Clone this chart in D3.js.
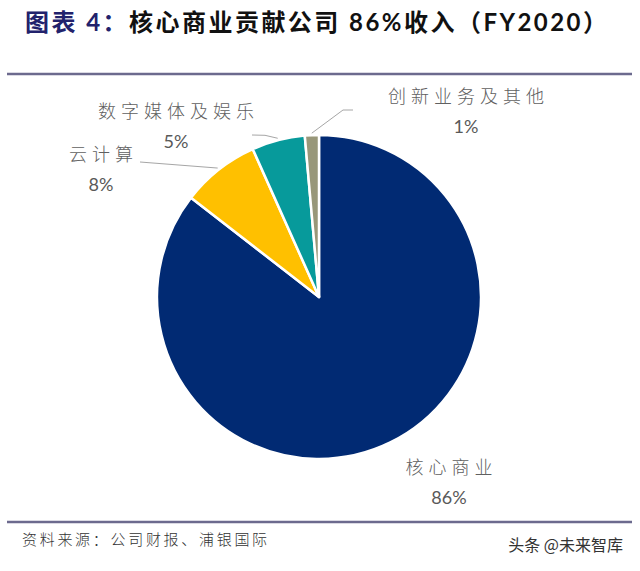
<!DOCTYPE html>
<html>
<head>
<meta charset="utf-8">
<script src="https://cdn.jsdelivr.net/npm/d3@7"></script>
<style>
  html, body { margin: 0; padding: 0; background: #fff; }
  svg { display: block; }
</style>
</head>
<body>
<svg id="chart" width="640" height="571"></svg>
<script>
// ---- data ----
const categories = ["核心商业", "云计算", "数字媒体及娱乐", "创新业务及其他"];
const shares = [85.5, 7.8, 5.3, 1.4];
const shareLabels = ["86%", "8%", "5%", "1%"];
const colors = ["#012A73", "#FFC000", "#079A9B", "#989779"];

const titlePrefix = "图表 4：";
const titleMain = "核心商业贡献公司 86%收入（FY2020）";
const sourceText = "资料来源：公司财报、浦银国际";
const watermark = "头条 @未来智库";

// ---- layout (label anchors; leader elbow points) ----
const labelLayout = [
  { x: 449, y: 474, leader: null },
  { x: 101, y: 161, leader: [[140, 162]] },
  { x: 176, y: 118, leader: [[265, 135.3], [252, 135]] },
  { x: 466, y: 103, leader: [[343, 110], [353, 110]] }
];

const svg = d3.select("#chart");
const cx = 319, cy = 297, R = 162;

// Title
const title = svg.append("text")
  .attr("x", 25).attr("y", 31)
  .attr("font-family", "Lato, 'Noto Sans CJK SC', sans-serif")
  .attr("font-weight", 700)
  .attr("font-size", 24);
title.append("tspan").attr("fill", "#22226C").text(titlePrefix);
title.append("tspan").attr("fill", "#111").text(titleMain);
// spread to reference width via letter-spacing (advance box incl. full-width paren)
const natural = title.node().getBBox().width;
const nChars = (titlePrefix + titleMain).length;
const lsT = Math.max(0, (582 - natural) / (nChars - 1));
title.attr("letter-spacing", lsT);

// rules
svg.append("line").attr("x1", 7).attr("x2", 632).attr("y1", 74).attr("y2", 74)
  .attr("stroke", "#6C6A8E").attr("stroke-width", 2.5);
svg.append("line").attr("x1", 7).attr("x2", 632).attr("y1", 522).attr("y2", 522)
  .attr("stroke", "#6C6A8E").attr("stroke-width", 2.5);

// Pie
const pie = d3.pie().sort(null).value(d => d).startAngle(0).endAngle(2 * Math.PI);
const arcs = pie(shares);
const arc = d3.arc().innerRadius(0).outerRadius(R);
const g = svg.append("g").attr("transform", `translate(${cx},${cy})`);
g.selectAll("path").data(arcs).join("path")
  .attr("d", arc)
  .attr("fill", (d, i) => colors[i])
  .attr("stroke", "#fff")
  .attr("stroke-width", 2.5)
  .attr("stroke-linejoin", "round");

// Leader lines
arcs.forEach((a, i) => {
  const L = labelLayout[i];
  if (!L.leader) return;
  const mid = (a.startAngle + a.endAngle) / 2;
  const start = [cx + (R + 2) * Math.sin(mid), cy - (R + 2) * Math.cos(mid)];
  const pts = [start, ...L.leader];
  svg.append("path")
    .attr("d", d3.line()(pts))
    .attr("fill", "none")
    .attr("stroke", "#A6A6A6")
    .attr("stroke-width", 1);
});

// Labels
const ls = 5;
categories.forEach((c, i) => {
  const L = labelLayout[i];
  svg.append("text")
    .attr("x", L.x + ls / 2).attr("y", L.y)
    .attr("text-anchor", "middle")
    .attr("font-family", "'Noto Sans CJK SC', sans-serif")
    .attr("font-weight", 300)
    .attr("font-size", 18)
    .attr("letter-spacing", ls)
    .attr("fill", "#606060")
    .text(c);
  svg.append("text")
    .attr("x", L.x).attr("y", L.y + 30)
    .attr("text-anchor", "middle")
    .attr("font-family", "Lato, 'Liberation Sans', sans-serif")
    .attr("font-size", 18)
    .attr("fill", "#595959")
    .text(shareLabels[i]);
});

// Source
svg.append("text")
  .attr("x", 22).attr("y", 545)
  .attr("font-family", "'Noto Sans CJK SC', sans-serif")
  .attr("font-weight", 300)
  .attr("font-size", 15)
  .attr("letter-spacing", 2.7)
  .attr("fill", "#333")
  .text(sourceText);

// Watermark
svg.append("text")
  .attr("x", 623).attr("y", 551)
  .attr("text-anchor", "end")
  .attr("font-family", "'Noto Sans CJK SC', sans-serif")
  .attr("font-size", 16)
  .attr("fill", "#333")
  .text(watermark);
</script>
</body>
</html>
